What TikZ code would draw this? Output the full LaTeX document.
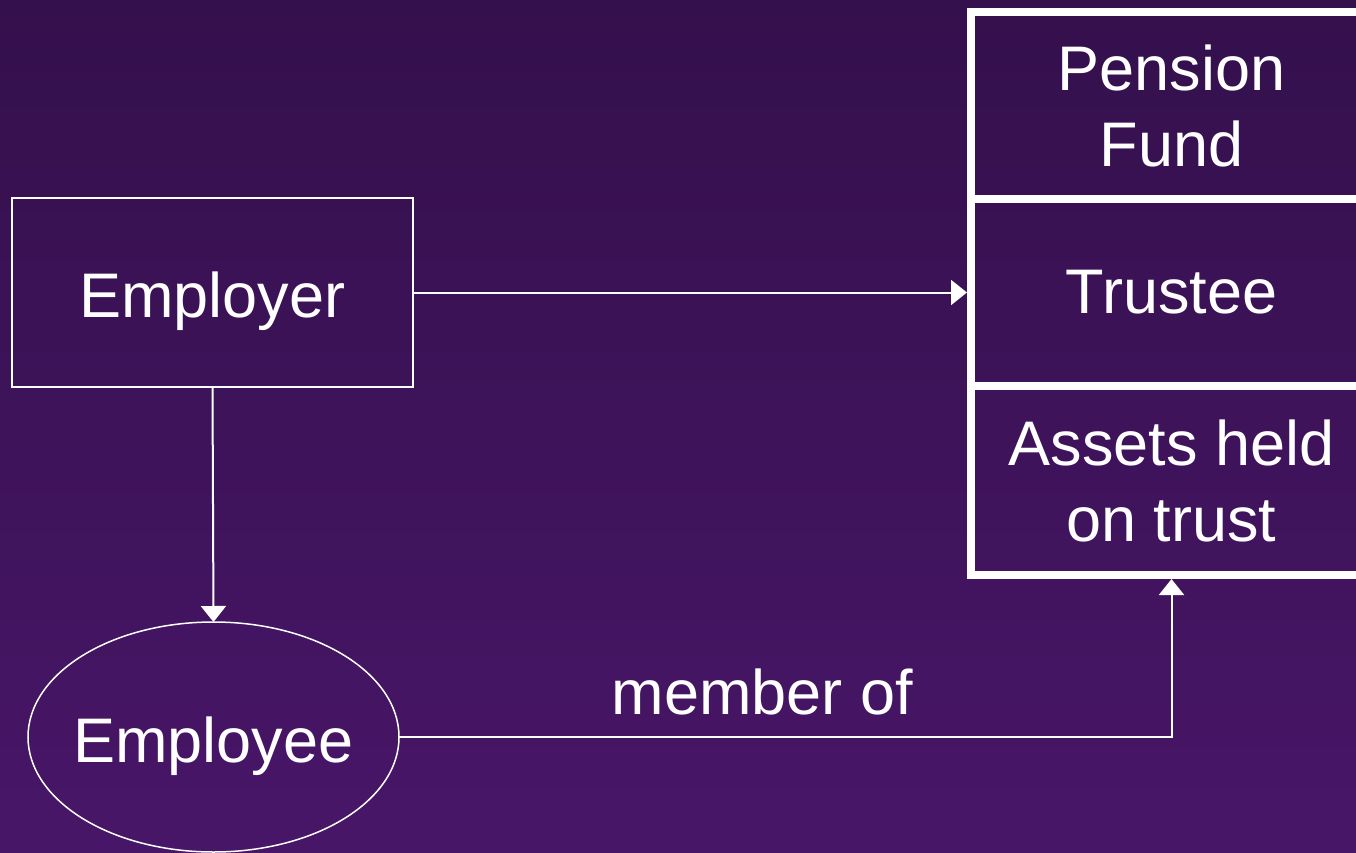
\documentclass[tikz,border=0pt]{standalone}
\usepackage{fontspec}
\setmainfont{Liberation Sans}
\usetikzlibrary{arrows.meta,shapes.geometric}
\definecolor{bgtop}{RGB}{52,16,76}
\definecolor{bgbot}{RGB}{72,22,104}
\begin{document}
\begin{tikzpicture}[x=1pt,y=-1pt,
  every node/.style={text=white,font=\fontsize{63}{76}\selectfont,inner sep=0pt,outer sep=0pt},
  thinbox/.style={draw=white,line width=1.8pt,rectangle,minimum width=401pt,minimum height=189pt},
  cellbox/.style={draw=white,line width=8pt,rectangle,minimum width=401pt,align=center,outer sep=4pt},
  oval/.style={draw=white,line width=1.5pt,ellipse,inner xsep=-9pt,minimum width=371pt,minimum height=230pt},
  conn/.style={draw=white,line width=2pt,-{Triangle[length=16pt,width=25pt]}}]
\useasboundingbox (0,0) rectangle (1356,853);
\shade[top color=bgtop,bottom color=bgbot] (0,0) rectangle (1356,853);
\clip (0,0) rectangle (1356,853);
% right column
\node[cellbox,minimum height=187pt] (pension) at (1171.5,105.5) {Pension\\Fund};
\node[cellbox,minimum height=187pt] (trustee) at (1171.5,292.5) {Trustee};
\node[cellbox,minimum height=189pt] (assets) at (1171.5,480.5) {Assets held\\on trust};
% left
\node[thinbox,text height=49pt,text depth=0pt] (employer) at (212.5,292.5) {Employer};
\node[oval,text height=50pt,text depth=0pt] (employee) at (213.5,737) {Employee};
% connectors
\draw[conn] (employer.east) -- (trustee.west);
\draw[conn] (employer.south) -- (employee.north);
\draw[conn] (employee.east) -| node[pos=0.235,anchor=base,yshift=23pt] (memberof) {member of} (assets.south);
\end{tikzpicture}
\end{document}
